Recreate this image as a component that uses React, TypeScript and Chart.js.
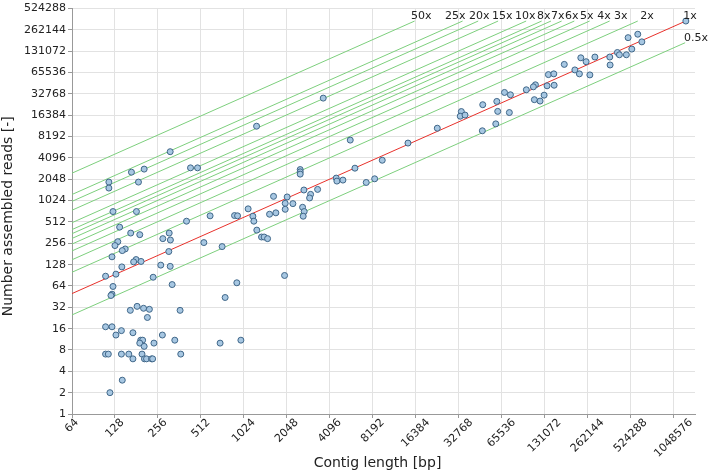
import React, { useEffect, useRef } from "react";
import { Chart, registerables } from "chart.js";

Chart.register(...registerables);

// ---------- data ----------
const xTickValues = [64, 128, 256, 512, 1024, 2048, 4096, 8192, 16384, 32768, 65536, 131072, 262144, 524288, 1048576];
const yTickValues = [1, 2, 4, 8, 16, 32, 64, 128, 256, 512, 1024, 2048, 4096, 8192, 16384, 32768, 65536, 131072, 262144, 524288];

const contigLength = [
  116, 116, 167, 187, 205, 312, 433, 485, 124, 181,
  1097, 406, 594, 881, 925, 138, 165, 191, 307, 277,
  313, 134, 128, 537, 721, 151, 144, 305, 122, 180,
  173, 195, 268, 143, 312, 130, 110, 237, 124, 322,
  914, 122, 120, 757, 164, 183, 203, 223, 216, 366,
  110, 122, 142, 130, 171, 275, 336, 976, 194, 200,
  191, 205, 240, 698, 110, 115, 142, 160, 198, 370,
  171, 206, 213, 231, 235, 144, 118,
  1257, 3684, 5697, 23200, 14460, 9547, 6144, 2541, 2541, 2541,
  4544, 4594, 5062, 7373, 8447, 2697, 3365, 3005, 2957, 1653,
  2059, 1995, 2258, 1995, 2641, 2710, 2667, 1550, 1716, 1184,
  1203, 1262, 1362, 1420, 1501, 1975,
  1279000, 589000, 504000, 629000, 535000, 424000, 438000, 490000, 375000, 377000,
  295000, 235000, 256000, 180000, 213500, 229700, 272000, 139300, 152000, 113000,
  109300, 136400, 152800, 97600, 111100, 121800, 130000, 68600, 75500, 60600,
  48300, 61500, 74200, 34200, 33600, 36300, 48000, 59600,
];

const assembledReads = [
  1870, 1540, 2580, 1870, 2850, 5020, 2970, 2970, 718, 718,
  784, 525, 625, 631, 625, 433, 357, 339, 357, 298,
  285, 270, 238, 262, 230, 213, 202, 196, 165, 151,
  140, 142, 126, 119, 121, 94, 88, 85, 63, 67,
  71, 49, 47, 44, 29, 33, 31, 30, 23, 29,
  17, 17, 15, 13, 14, 13, 11, 11, 11, 11,
  10, 9, 10, 10, 7, 7, 7, 7, 7, 7,
  6, 6, 6, 6, 6, 3, 2,
  11490, 28620, 7316, 10770, 6645, 3803, 2939, 2810, 2608, 2422,
  2129, 1932, 1996, 1847, 2081, 1446, 1475, 1255, 1117, 1176,
  1154, 938, 929, 773, 825, 718, 617, 658, 689, 617,
  525, 393, 314, 314, 298, 90,
  350000, 228000, 204000, 178000, 140800, 126000, 117000, 117000, 108700, 84000,
  108700, 106000, 93400, 85600, 71500, 62900, 60800, 61400, 62900, 44100,
  41300, 42700, 43500, 37500, 27200, 26000, 31500, 34400, 31900, 25700,
  23100, 18600, 17900, 18500, 15900, 16500, 9900, 12400,
];

// coverage reference lines
const coverageLabels = ["0.5x", "1x", "2x", "3x", "4x", "5x", "6x", "7x", "8x", "10x", "15x", "20x", "25x", "50x"];
const lineStartLength = [64, 64, 64, 64, 64, 64, 64, 64, 64, 64, 64, 64, 64, 64];
const lineStartReads = [25, 50, 100, 150, 200, 250, 300, 350, 400, 500, 750, 1000, 1250, 2500];
const lineEndLength = [1265000, 1278000, 589000, 374000, 271000, 211600, 172500, 145200, 125000, 97300, 61900, 44900, 34900, 16100];
const lineEndReads = [173000, 350000, 350000, 350000, 350000, 350000, 350000, 350000, 350000, 350000, 350000, 350000, 350000, 350000];

// where each coverage label sits (data coordinates)
const labelLength = [1240000, 1225000, 612000, 402000, 306000, 232000, 182000, 145500, 116000, 81300, 56100, 38700, 26300, 15200];
const labelReads = [202000, 407000, 407000, 407000, 407000, 407000, 407000, 407000, 407000, 407000, 407000, 407000, 407000, 407000];

const FONT = "'DejaVu Sans', Verdana, sans-serif";

export default function App() {
  const canvasRef = useRef<HTMLCanvasElement | null>(null);

  useEffect(() => {
    const canvas = canvasRef.current;
    if (!canvas) return;

    const overlay = {
      id: "overlay",
      afterDraw(chart: any) {
        const ctx = chart.ctx as CanvasRenderingContext2D;
        const xs = chart.scales.x;
        const ys = chart.scales.y;
        const area = chart.chartArea;
        ctx.save();
        // coverage labels
        ctx.font = `11px ${FONT}`;
        ctx.fillStyle = "#222";
        ctx.textAlign = "left";
        ctx.textBaseline = "middle";
        for (let i = 0; i < coverageLabels.length; i++) {
          ctx.fillText(coverageLabels[i], xs.getPixelForValue(labelLength[i]), ys.getPixelForValue(labelReads[i]));
        }
        // x tick labels rotated 45 degrees, centred on tick
        ctx.textAlign = "center";
        ctx.textBaseline = "middle";
        for (const v of xTickValues) {
          const px = xs.getPixelForValue(v);
          const t = String(v);
          const w = ctx.measureText(t).width;
          const half = ((w + 8) * Math.SQRT1_2) / 2;
          ctx.save();
          ctx.translate(px, area.bottom + 4 + half);
          ctx.rotate(-Math.PI / 4);
          ctx.fillText(t, 0, 0);
          ctx.restore();
        }
        // axis titles
        ctx.font = `14px ${FONT}`;
        ctx.textAlign = "center";
        ctx.textBaseline = "middle";
        ctx.fillText("Contig length [bp]", (area.left + area.right) / 2 - 6, 463);
        ctx.save();
        ctx.translate(8.5, (area.top + area.bottom) / 2 + 5);
        ctx.rotate(-Math.PI / 2);
        ctx.fillText("Number assembled reads [-]", 0, 0);
        ctx.restore();
        ctx.restore();
      },
    };

    const lineDatasets = coverageLabels.map((lab, i) => ({
      label: lab,
      type: "scatter" as const,
      data: [
        { x: lineStartLength[i], y: lineStartReads[i] },
        { x: lineEndLength[i], y: lineEndReads[i] },
      ],
      showLine: true,
      borderColor: lab === "1x" ? "#e8312b" : "#7dcf7d",
      backgroundColor: "transparent",
      borderWidth: 1,
      pointRadius: 0,
      pointHoverRadius: 0,
    }));

    const chart = new Chart(canvas, {
      type: "scatter",
      data: {
        datasets: [
          {
            label: "contigs",
            data: contigLength.map((x, i) => ({ x, y: assembledReads[i] })),
            backgroundColor: "#a7c7e2",
            borderColor: "#3f6688",
            borderWidth: 1,
            pointRadius: 3,
          },
          ...lineDatasets,
        ],
      },
      plugins: [overlay],
      options: {
        responsive: false,
        animation: false,
        devicePixelRatio: 1,
        layout: { padding: { left: 0, right: 14, top: 6, bottom: 0 } },
        plugins: { legend: { display: false }, tooltip: { enabled: false } },
        scales: {
          x: {
            type: "logarithmic",
            min: 64,
            max: 1482910,
            afterBuildTicks: (s: any) => {
              s.ticks = xTickValues.map((v) => ({ value: v }));
            },
            afterFit: (s: any) => {
              s.height = 59;
            },
            ticks: { display: false },
            grid: { color: "#e2e2e2", tickLength: 4, tickColor: "#999" },
            border: { color: "#999" },
          },
          y: {
            type: "logarithmic",
            min: 1,
            max: 524288,
            afterBuildTicks: (s: any) => {
              s.ticks = yTickValues.map((v) => ({ value: v }));
            },
            afterFit: (s: any) => {
              s.width = 72;
            },
            ticks: {
              autoSkip: false,
              padding: 2,
              color: "#222",
              font: { family: FONT, size: 11 },
              callback: (v: any) => String(Math.round(Number(v))),
            },
            grid: { color: "#e2e2e2", tickLength: 4, tickColor: "#999" },
            border: { color: "#999" },
          },
        },
      },
    });

    return () => chart.destroy();
  }, []);

  return (
    <div style={{ position: "fixed", left: 0, top: 0, width: 709, height: 473, background: "#fff" }}>
      <canvas ref={canvasRef} width={709} height={473} style={{ display: "block" }} />
    </div>
  );
}
